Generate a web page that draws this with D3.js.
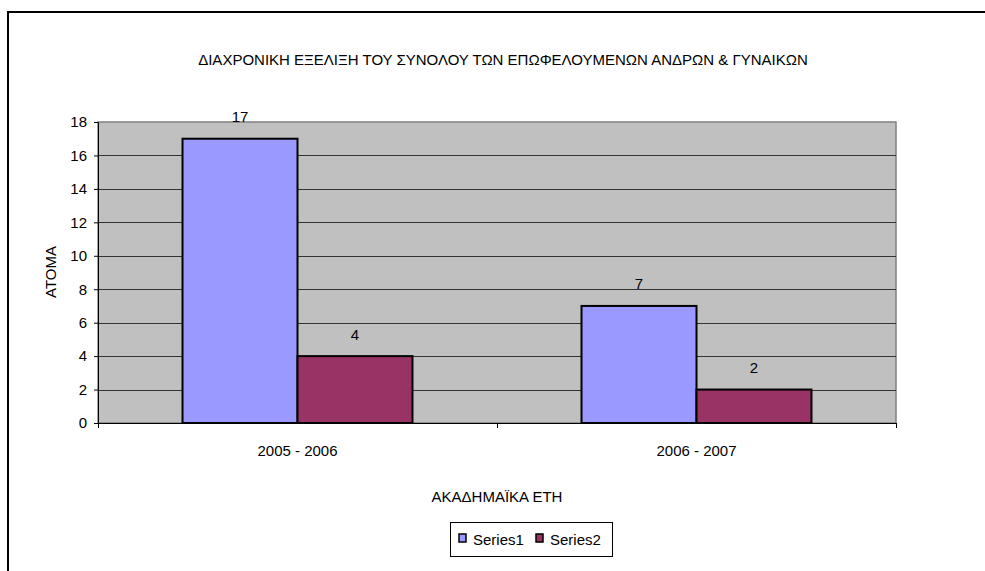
<!DOCTYPE html>
<html><head><meta charset="utf-8">
<script src="https://cdn.jsdelivr.net/npm/d3@7"></script>
<style>body{margin:0;background:#fff;}svg{display:block;font-family:"Liberation Sans",Arial,sans-serif;}</style>
</head><body>
<svg id="c" width="985" height="571"></svg>
<script>
const categories = ["2005 - 2006", "2006 - 2007"];
const seriesNames = ["Series1", "Series2"];
const series1 = [17, 7];
const series2 = [4, 2];
const yTicks = [0, 2, 4, 6, 8, 10, 12, 14, 16, 18];
const colors = ["#9999FF", "#993366"];
const title = "ΔΙΑΧΡΟΝΙΚΗ ΕΞΕΛΙΞΗ ΤΟΥ ΣΥΝΟΛΟΥ ΤΩΝ ΕΠΩΦΕΛΟΥΜΕΝΩΝ ΑΝΔΡΩΝ & ΓΥΝΑΙΚΩΝ";
const yTitle = "ΑΤΟΜΑ";
const xTitle = "ΑΚΑΔΗΜΑΪΚΑ ΕΤΗ";

const FS = 15;
const svg = d3.select("#c");
const m = {l: 98, r: 896, t: 122, b: 423};

// outer frame (top and left)
svg.append("line").attr("x1", 8).attr("x2", 985).attr("y1", 12).attr("y2", 12).attr("stroke", "#000").attr("stroke-width", 2);
svg.append("line").attr("x1", 8).attr("x2", 8).attr("y1", 11).attr("y2", 571).attr("stroke", "#000").attr("stroke-width", 2);

const x0 = d3.scaleBand().domain(categories).range([m.l, m.r]).paddingInner(0).paddingOuter(0);
const x1 = d3.scaleBand().domain(seriesNames).range([0, x0.bandwidth()]).paddingInner(0).paddingOuter(0.735);
const y = d3.scaleLinear().domain([0, 18]).range([m.b, m.t]);

// plot background
svg.append("rect").attr("x", m.l).attr("y", m.t).attr("width", m.r - m.l).attr("height", m.b - m.t)
  .attr("fill", "#C0C0C0").attr("stroke", "#808080").attr("stroke-width", 1.5);

// grid lines
svg.append("g").selectAll("line").data(yTicks.filter(d => d > 0 && d < 18)).join("line")
  .attr("x1", m.l).attr("x2", m.r).attr("y1", d => Math.round(y(d)) + 0.5).attr("y2", d => Math.round(y(d)) + 0.5)
  .attr("stroke", "#333").attr("stroke-width", 1);

// bars
const data = categories.map((c, i) => ({cat: c, vals: [series1[i], series2[i]]}));
const g = svg.append("g");
data.forEach(d => {
  d.vals.forEach((v, j) => {
    g.append("rect")
      .attr("x", x0(d.cat) + x1(seriesNames[j]))
      .attr("y", y(v))
      .attr("width", x1.bandwidth())
      .attr("height", y(0) - y(v))
      .attr("fill", colors[j]).attr("stroke", "#000").attr("stroke-width", 2);
    g.append("text")
      .attr("x", x0(d.cat) + x1(seriesNames[j]) + x1.bandwidth() / 2)
      .attr("y", y(v) - 16.5)
      .attr("text-anchor", "middle").attr("font-size", FS).attr("fill", "#000")
      .text(v);
  });
});

// y axis
const yAxis = d3.axisLeft(y).tickValues(yTicks).tickSize(4).tickPadding(7).tickFormat(d3.format("d"));
const ya = svg.append("g").attr("transform", `translate(${m.l},0)`).call(yAxis);
ya.select(".domain").attr("stroke", "#000");
ya.selectAll(".tick line").attr("stroke", "#000");
ya.selectAll(".tick text").attr("font-size", FS).attr("font-family", "Liberation Sans, Arial, sans-serif").attr("fill", "#000");

// x axis
const xa = svg.append("g").attr("transform", `translate(0,${m.b})`);
xa.append("line").attr("x1", m.l).attr("x2", m.r).attr("y1", 0.5).attr("y2", 0.5).attr("stroke", "#000");
const xb = [m.l, ...categories.map(c => x0(c) + x0.bandwidth())];
xa.selectAll(".tk").data(xb).join("line").attr("class", "tk")
  .attr("x1", d => d + 0.5).attr("x2", d => d + 0.5).attr("y1", 0).attr("y2", 5).attr("stroke", "#000");
xa.selectAll(".lb").data(categories).join("text").attr("class", "lb")
  .attr("x", d => x0(d) + x0.bandwidth() / 2).attr("y", 33)
  .attr("text-anchor", "middle").attr("font-size", FS).attr("fill", "#000").text(d => d);

// titles
svg.append("text").attr("x", 503).attr("y", 65).attr("text-anchor", "middle").attr("font-size", FS).text(title);
svg.append("text").attr("x", 497).attr("y", 502).attr("text-anchor", "middle").attr("font-size", FS).text(xTitle);
svg.append("text").attr("transform", "translate(56,272) rotate(-90)").attr("text-anchor", "middle").attr("font-size", FS).text(yTitle);

// legend
const lg = svg.append("g");
lg.append("rect").attr("x", 450.5).attr("y", 522.5).attr("width", 162).attr("height", 34).attr("fill", "#fff").attr("stroke", "#000");
seriesNames.forEach((s, i) => {
  const lx = 459 + i * 77;
  lg.append("rect").attr("x", lx).attr("y", 534).attr("width", 7).attr("height", 8).attr("fill", colors[i]).attr("stroke", "#000").attr("stroke-width", 1.5);
  lg.append("text").attr("x", lx + 14).attr("y", 545).attr("font-size", FS).text(s);
});
</script>
</body></html>
